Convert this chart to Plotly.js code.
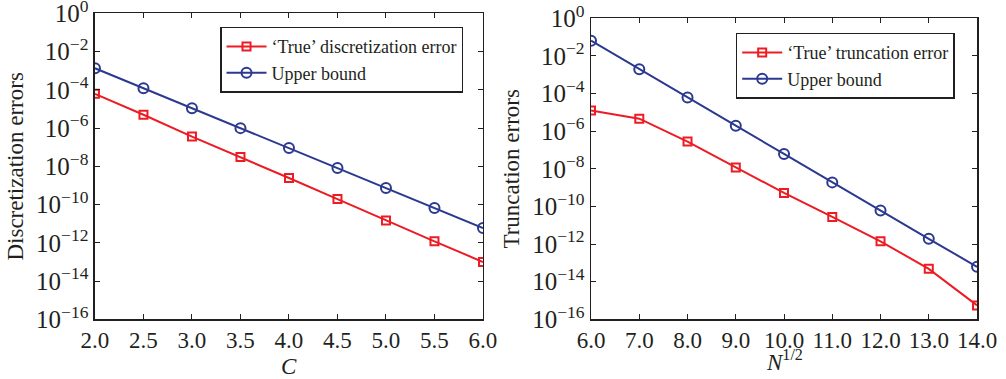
<!DOCTYPE html>
<html>
<head>
<meta charset="utf-8">
<script src="https://cdn.plot.ly/plotly-3.0.1.min.js"></script>
<style>html,body{margin:0;padding:0;background:#fff;}#chart{width:1006px;height:379px;}</style>
</head>
<body>
<div id="chart"></div>
<script>
// Left panel: discretization errors vs C
const cValues = [2.0, 2.5, 3.0, 3.5, 4.0, 4.5, 5.0, 5.5, 6.0];
const trueDiscretization = [6.2e-5, 5.0e-6, 3.6e-7, 3.1e-8, 2.45e-9, 1.95e-10, 1.48e-11, 1.2e-12, 1.0e-13];
const upperDiscretization = [1.35e-3, 1.23e-4, 1.1e-5, 1.0e-6, 9.1e-8, 8.1e-9, 7.4e-10, 6.6e-11, 6.0e-12];

// Right panel: truncation errors vs N^{1/2}
const sqrtN = [6.0, 7.0, 8.0, 9.0, 10.0, 11.0, 12.0, 13.0, 14.0];
const trueTruncation = [1.25e-5, 4.6e-6, 2.8e-7, 1.17e-8, 5.2e-10, 2.75e-11, 1.4e-12, 4.8e-14, 5.5e-16];
const upperTruncation = [6.5e-2, 1.95e-3, 6.2e-5, 1.95e-6, 6.2e-8, 1.9e-9, 6.0e-11, 1.9e-12, 6.2e-14];

// Tick labels
const yTickVals = [1, 1e-2, 1e-4, 1e-6, 1e-8, 1e-10, 1e-12, 1e-14, 1e-16];
const yTickText = ['10<sup>0</sup>', '10<sup>−2</sup>', '10<sup>−4</sup>', '10<sup>−6</sup>', '10<sup>−8</sup>',
                   '10<sup>−10</sup>', '10<sup>−12</sup>', '10<sup>−14</sup>', '10<sup>−16</sup>'];
const leftXTicks = [2.0, 2.5, 3.0, 3.5, 4.0, 4.5, 5.0, 5.5, 6.0];
const rightXTicks = [6.0, 7.0, 8.0, 9.0, 10.0, 11.0, 12.0, 13.0, 14.0];

const RED = '#ed1c24';
const BLUE = '#2b3990';
const INK = '#231f20';
const FONT = 'Liberation Serif';

const traces = [
  {x: cValues, y: trueDiscretization, xaxis: 'x', yaxis: 'y', mode: 'lines+markers',
   name: '‘True’ discretization error', legend: 'legend',
   line: {color: RED, width: 2}, marker: {symbol: 'square-open', size: 8, color: RED, line: {width: 2}}},
  {x: cValues, y: upperDiscretization, xaxis: 'x', yaxis: 'y', mode: 'lines+markers',
   name: 'Upper bound', legend: 'legend',
   line: {color: BLUE, width: 2}, marker: {symbol: 'circle-open', size: 10, color: BLUE, line: {width: 2}}},
  {x: sqrtN, y: trueTruncation, xaxis: 'x2', yaxis: 'y2', mode: 'lines+markers',
   name: '‘True’ truncation error', legend: 'legend2',
   line: {color: RED, width: 2}, marker: {symbol: 'square-open', size: 8, color: RED, line: {width: 2}}},
  {x: sqrtN, y: upperTruncation, xaxis: 'x2', yaxis: 'y2', mode: 'lines+markers',
   name: 'Upper bound', legend: 'legend2',
   line: {color: BLUE, width: 2}, marker: {symbol: 'circle-open', size: 10, color: BLUE, line: {width: 2}}}
];

const axisCommon = {
  showline: true, linecolor: INK, linewidth: 1.5, mirror: 'ticks',
  ticks: 'inside', ticklen: 5, tickwidth: 1, tickcolor: INK,
  showgrid: false, zeroline: false, ticklabeloverflow: 'allow',
  tickfont: {family: FONT, size: 23, color: INK}
};

const legendCommon = {
  font: {family: FONT, size: 18, color: INK},
  bgcolor: '#fff', bordercolor: INK, borderwidth: 1.5,
  xanchor: 'left', yanchor: 'top', tracegroupgap: 0, itemwidth: 40
};

const titleFont = {family: FONT, size: 23, color: INK};

const layout = {
  width: 1006, height: 379,
  margin: {l: 0, r: 0, t: 0, b: 0},
  paper_bgcolor: '#fff', plot_bgcolor: '#fff',
  font: {family: FONT, color: INK},
  showlegend: true,
  xaxis: Object.assign({}, axisCommon, {
    domain: [0.0944, 0.4801], range: [2, 6], tickvals: leftXTicks, tickformat: '.1f', anchor: 'y'
  }),
  yaxis: Object.assign({}, axisCommon, {
    domain: [0.1575, 0.9646], type: 'log', range: [-16, 0], tickvals: yTickVals, ticktext: yTickText,
    anchor: 'x', tickfont: {family: FONT, size: 25, color: INK},
    title: {text: 'Discretization errors', font: titleFont, standoff: 6}
  }),
  xaxis2: Object.assign({}, axisCommon, {
    domain: [0.5875, 0.9712], range: [6, 14], tickvals: rightXTicks, tickformat: '.1f', anchor: 'y2'
  }),
  yaxis2: Object.assign({}, axisCommon, {
    domain: [0.1575, 0.9517], type: 'log', range: [-16, 0], tickvals: yTickVals, ticktext: yTickText,
    anchor: 'x2', tickfont: {family: FONT, size: 25, color: INK},
    title: {text: 'Truncation errors', font: titleFont, standoff: 6}
  }),
  annotations: [
    {text: '<i>C</i>', xref: 'x domain', yref: 'paper', x: 0.5, y: 1 - 366 / 379,
     xanchor: 'center', yanchor: 'middle', showarrow: false, font: titleFont},
    {text: '<i>N</i><sup>1/2</sup>', xref: 'x2 domain', yref: 'paper', x: 0.5, y: 0,
     xanchor: 'center', yanchor: 'bottom', yshift: 2, showarrow: false, font: titleFont}
  ],
  legend: Object.assign({}, legendCommon, {x: 0.2187, y: 0.9296}),
  legend2: Object.assign({}, legendCommon, {x: 0.7313, y: 0.9137})
};

Plotly.newPlot('chart', traces, layout, {staticPlot: true, displayModeBar: false});
</script>
</body>
</html>
